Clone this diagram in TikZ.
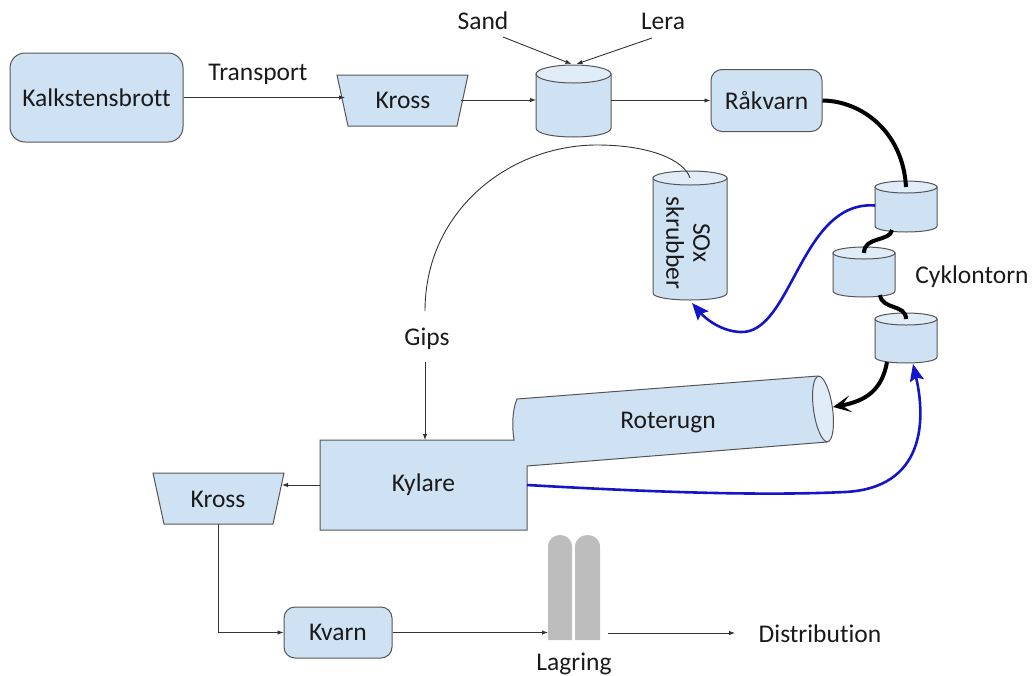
\documentclass[tikz,border=0pt]{standalone}
\usepackage{fontspec}
\setmainfont{Carlito}[Ligatures=NoCommon]
\usetikzlibrary{arrows.meta,calc}
\definecolor{boxfill}{HTML}{CFE2F3}
\definecolor{topfill}{HTML}{E0ECF8}
\definecolor{edgegray}{HTML}{555555}
\definecolor{linegray}{HTML}{333333}
\definecolor{flowblue}{HTML}{1414C8}
\definecolor{silogray}{HTML}{BDBDBD}
\definecolor{txt}{HTML}{1A1A1A}
\newcommand\cylpic[6]{% name, cx, ytop, ybot, a, b
  \path[cylbody] (#2-#5,#3) -- (#2-#5,#4) .. controls (#2-#5,#4+1.333*#6) and (#2+#5,#4+1.333*#6) .. (#2+#5,#4) -- (#2+#5,#3) -- cycle;
  \path[cyltop] (#2,#3) ellipse [x radius=#5, y radius=#6];
  \node[anchorbox, minimum width=2*#5pt, minimum height=#4+#6-#3 pt] (#1) at (#2,{(#3+#4+#6)/2}) {};
}
\begin{document}
\begin{tikzpicture}[x=1pt,y=-1pt,
  every node/.style={text=txt, font=\fontsize{25.5}{29}\selectfont},
  anchorbox/.style={inner sep=0pt, outer sep=0pt, draw=none, rectangle},
  roundbox/.style={draw=edgegray, fill=boxfill, line width=1pt, rounded corners=11pt, inner sep=0pt},
  plainshape/.style={draw=edgegray, fill=boxfill, line width=1pt},
  cylbody/.style={draw=edgegray, fill=boxfill, line width=1pt},
  cyltop/.style={draw=edgegray, fill=topfill, line width=1pt},
  thin arrow/.style={draw=linegray, line width=0.9pt, -{Latex[length=6pt,width=4.5pt]}},
  thin line/.style={draw=linegray, line width=0.9pt},
  blue flow/.style={draw=flowblue, line width=2.6pt, -{Stealth[length=17pt,width=14pt,inset=3pt]}},
  black flow/.style={draw=black, line width=4pt},
  black arrow/.style={draw=black, line width=4pt, -{Stealth[length=18pt,width=17pt,inset=9pt]}},
]
\useasboundingbox (0,0) rectangle (1032,675);

% top row
\node[roundbox, minimum width=173pt, minimum height=89pt, rounded corners=15pt] (kalk) at (96.5,97.5) {Kalkstensbrott};
\node (transport) at (258,74) {Transport};
\path[plainshape] (337,75) -- (468,75) -- (457,126) -- (348,126) -- cycle;
\node[anchorbox, minimum width=116pt, minimum height=50pt] (kross1) at (403,100) {Kross};
\cylpic{mix}{573.5}{74}{128}{37.5}{9}
\node (sand) at (483,21) {Sand};
\node (lera) at (663,21) {Lera};
\node[roundbox, minimum width=111pt, minimum height=62pt] (rakvarn) at (766.5,100.5) {Råkvarn};

\draw[thin arrow] (kalk.east) -- (kalk.east -| kross1.west);
\draw[thin arrow] (kross1.east) -- (kross1.east -| mix.west);
\draw[thin arrow] (rakvarn.west -| mix.east) -- (rakvarn.west);
\coordinate (sandtip) at ($(mix.north)+(-2,-10)$);
\coordinate (leratip) at ($(mix.north)+(3,-10)$);
\coordinate (sandfrom) at (503,37);
\coordinate (lerafrom) at (652,38);
\draw[thin arrow] (sandfrom) -- (sandtip);
\draw[thin arrow] (lerafrom) -- (leratip);

% cyclone tower and scrubber
\cylpic{cyc1}{906}{187}{226}{31}{6}
\cylpic{cyc2}{864}{253}{291}{31}{6}
\cylpic{cyc3}{906}{319}{357}{31}{6}
\node (cyklon) at (972,277) {Cyklontorn};
\cylpic{sox}{690}{178}{293}{37}{7}
\node[rotate=-90, align=center, font=\fontsize{25.5}{27}\selectfont] (soxtext) at (688,243) {SOx\\skrubber};

\draw[black flow] (rakvarn.east) .. controls (862,101) and (903,132) .. (cyc1.north);
\draw[black flow] ($(cyc1.south)+(-14,-2)$) .. controls (890,242) and (864,236) .. (cyc2.north);
\draw[black flow] ($(cyc2.south)+(16,-2)$) .. controls (882,310) and (906,304) .. (cyc3.north);

% kiln and cooler
\node[anchorbox, minimum width=207pt, minimum height=90pt] (kylare) at (423.5,485) {};
\node[anchorbox, minimum width=290pt, minimum height=60pt] (kiln) at (668,423) {};
\path[plainshape] (320,440) -- (514,440) .. controls (512,428) and (512,410) .. (517,399) -- (818,376) -- (827,442) -- (527,466) -- (527,530) -- (320,530) -- cycle;
\begin{scope}[rotate around={8:(823,409)}]
\path[cyltop] (823,409) ellipse [x radius=9.5, y radius=33];
\end{scope}
\node at (kylare) {Kylare};
\node at (kiln) {Roterugn};
\coordinate (kilnend) at (833,407);

\draw[black arrow] ($(cyc3.south)+(-19,-1)$) .. controls (882,390) and (866,401) .. (kilnend);
\draw[blue flow] (kylare.east) .. controls (650,492) and (760,496) .. (845,492) .. controls (925,488) and (926,420) .. ($(cyc3.south)+(7,1)$);
\draw[blue flow] ($(cyc1.west)+(0,-4)$) .. controls (800,200) and (792,335) .. (740,332) .. controls (720,331) and (705,318) .. ($(sox.south)+(2,3)$);

% gypsum return
\node (gips) at (427,339) {Gips};
\coordinate (gipstop) at (425,311);
\draw[thin line] (sox.north) .. controls (684,160) and (650,145) .. (597,145) .. controls (510,145) and (425,210) .. (gipstop);
\coordinate (gipsbot) at (425,362);
\draw[thin arrow] (gipsbot) -- (gipsbot |- kylare.north);

% bottom row
\path[plainshape] (153,473) -- (284,473) -- (273,524) -- (164,524) -- cycle;
\node[anchorbox, minimum width=128pt, minimum height=50pt] (kross2) at (218,499) {Kross};
\node[roundbox, minimum width=108pt, minimum height=51pt] (kvarn) at (338,632.5) {Kvarn};
\fill[silogray] (548,640) -- (548,547) .. controls (548,531) and (572,531) .. (572,547) -- (572,640) -- cycle;
\fill[silogray] (575,640) -- (575,547) .. controls (575,531) and (600,531) .. (600,547) -- (600,640) -- cycle;
\node[anchorbox, minimum width=52pt, minimum height=105pt] (silo) at (574,587.5) {};
\node (lagring) at (574,664) {Lagring};
\node (dist) at (820,634) {Distribution};

\draw[thin arrow] (kylare.west) -- (kylare.west -| kross2.east);
\draw[thin arrow] (kross2.south) |- (kvarn.west);
\draw[thin arrow] (kvarn.east) -- (kvarn.east -| silo.west);
\coordinate (distfrom) at (608,633);
\coordinate (distto) at (735,633);
\draw[thin arrow] (distfrom) -- (distto);
\end{tikzpicture}
\end{document}
